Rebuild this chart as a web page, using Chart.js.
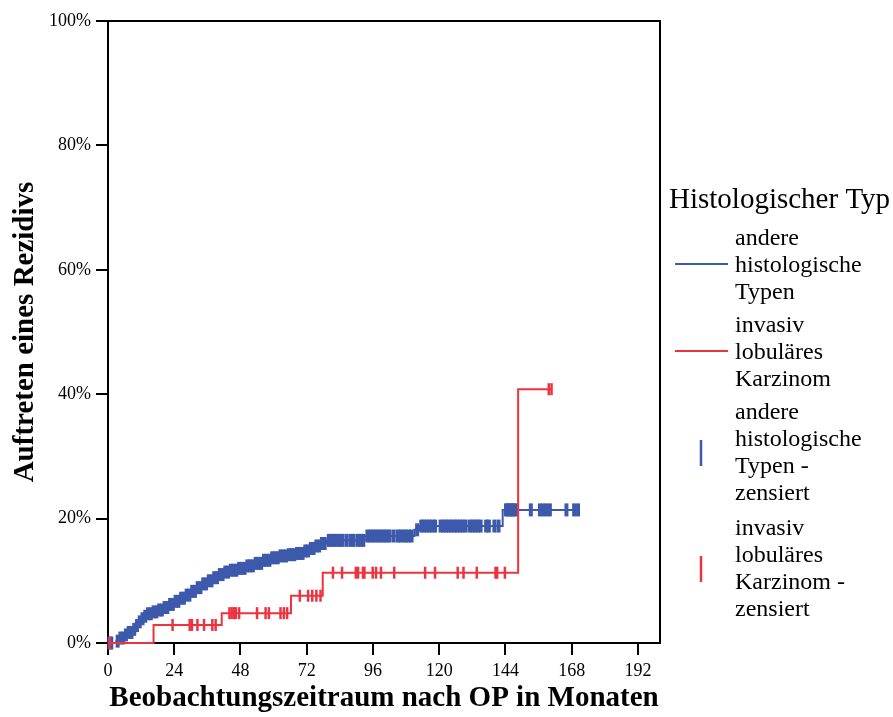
<!DOCTYPE html>
<html>
<head>
<meta charset="utf-8">
<script src="https://cdn.jsdelivr.net/npm/chart.js@4/dist/chart.umd.min.js"></script>
<style>
  html, body { margin: 0; padding: 0; background: #ffffff; }
  #wrap { width: 893px; height: 717px; position: relative; }
</style>
</head>
<body>
<div id="wrap"><canvas id="c" width="893" height="717"></canvas></div>
<script>
// Axis ticks
const xTicks = [0, 24, 48, 72, 96, 120, 144, 168, 192];
const yTicks = [0, 20, 40, 60, 80, 100];

// Legend texts
const legendTitle = 'Histologischer Typ';
const legendEntries = [
  ['andere', 'histologische', 'Typen'],
  ['invasiv', 'lobuläres', 'Karzinom'],
  ['andere', 'histologische', 'Typen -', 'zensiert'],
  ['invasiv', 'lobuläres', 'Karzinom -', 'zensiert']
];

// Cumulative recurrence (%) – other histological types
const otherMonths = [0, 3, 4.5, 6, 7.5, 9, 10, 11, 12, 13, 14.5, 16, 18, 20, 22, 24, 26, 28, 30, 32, 34, 36, 38, 40, 42, 44, 47, 50, 53, 56, 59, 62, 65, 68, 71, 73, 75, 77, 79, 93, 111, 113, 143, 170.3];
const otherRisk   = [0, 0.3, 0.8, 1.3, 1.7, 2.2, 2.8, 3.4, 3.9, 4.3, 4.7, 5.0, 5.3, 5.7, 6.2, 6.7, 7.2, 7.7, 8.3, 8.9, 9.5, 10.0, 10.5, 11.0, 11.4, 11.7, 12.0, 12.4, 12.8, 13.3, 13.7, 14.0, 14.2, 14.4, 14.8, 15.2, 15.6, 16.0, 16.5, 17.2, 18.2, 18.8, 21.4, 21.4];
const otherCensored = [0.5, 1.2, 3.5, 4.5, 5.5, 6.5, 7.5, 8.5, 9.5, 10.5, 11.5, 12.5, 13.5, 14.5, 15.5, 16.5, 17.5, 18.5, 19.5, 20.5, 21.5, 22.5, 23.5, 24.5, 25.5, 26.5, 27.5, 28.5, 29.5, 30.5, 31.5, 32.5, 33.5, 34.5, 35.5, 36.5, 37.5, 38.5, 39.5, 40.5, 41.5, 42.5, 43.5, 44.5, 45.5, 46.5, 47.5, 48.5, 49.5, 50.5, 51.5, 52.5, 53.5, 54.5, 55.5, 56.5, 57.5, 58.5, 59.5, 60.5, 61.5, 62.5, 63.5, 64.5, 65.5, 66.5, 67.5, 68.5, 69.5, 70.5, 71.5, 72.5, 73.5, 74.5, 75.5, 76.5, 77.5, 78.5, 80, 81, 82, 83, 84, 85, 86.5, 88, 89, 90.5, 91.5, 92.5, 94, 95, 96, 97, 98, 99, 100, 101, 102, 103.5, 105, 106, 107, 108, 109, 110, 112, 113.5, 114.5, 115.5, 116.5, 117.5, 118.5, 120.5, 121.5, 122.5, 123.5, 124.5, 125.5, 126.5, 127.5, 128.5, 129.5, 131, 132, 133, 134, 135, 137, 138, 140, 141.5, 144.2, 144.8, 145.4, 146, 146.6, 147.2, 147.8, 153.2, 156.5, 157.7, 158.9, 160.1, 166.1, 168.9, 170.3];

// Cumulative recurrence (%) – invasive lobular carcinoma
const ilcMonths = [0, 16.5, 41.2, 66.3, 77.8, 148.6, 160.5];
const ilcRisk   = [0, 2.9, 4.8, 7.6, 11.3, 40.8, 40.8];
const ilcCensored = [0.6, 23.4, 29.6, 30.4, 32.4, 34.8, 37.8, 39.0, 44.0, 44.8, 45.6, 46.3, 47.5, 54.0, 57.1, 58.3, 62.5, 63.7, 64.9, 69.5, 72.5, 74.0, 75.5, 77.0, 81.5, 84.8, 89.8, 90.6, 92.4, 92.9, 95.9, 97.1, 98.9, 103.7, 114.9, 118.5, 126.7, 128.8, 133.6, 140.4, 141.0, 143.8, 159.7, 160.7];

const BLUE = '#3d59ab';
const RED = '#ee3340';
const SERIF = '"Liberation Serif", "Times New Roman", serif';

function riskAt(months, risk, t) {
  let v = risk[0];
  for (let i = 0; i < months.length; i++) {
    if (months[i] <= t) v = risk[i]; else break;
  }
  return v;
}
const toPoints = (m, r) => m.map((x, i) => ({ x: x, y: r[i] }));
const censorPoints = (c, m, r) => c.map(t => ({ x: t, y: riskAt(m, r, t) }));

// Box on top/right plus the legend at the right
const framePlugin = {
  id: 'frameAndLegend',
  afterDraw(chart) {
    const { ctx, chartArea: a } = chart;
    ctx.save();
    ctx.strokeStyle = '#000';
    ctx.lineWidth = 2;
    ctx.beginPath();
    ctx.moveTo(a.left - 1, a.top);
    ctx.lineTo(a.right, a.top);
    ctx.lineTo(a.right, a.bottom + 1);
    ctx.stroke();

    ctx.fillStyle = '#000';
    ctx.textBaseline = 'middle';
    ctx.textAlign = 'left';
    ctx.font = '29px ' + SERIF;
    ctx.fillText(legendTitle, 669, 200);

    ctx.font = '24px ' + SERIF;
    const starts = [239, 326, 413, 529];
    const lh = 27;
    legendEntries.forEach((lines, k) => {
      lines.forEach((s, j) => ctx.fillText(s, 735, starts[k] + j * lh));
    });

    ctx.lineWidth = 2;
    ctx.strokeStyle = BLUE;
    ctx.beginPath(); ctx.moveTo(675, 264); ctx.lineTo(728, 264); ctx.stroke();
    ctx.strokeStyle = RED;
    ctx.beginPath(); ctx.moveTo(675, 351); ctx.lineTo(728, 351); ctx.stroke();
    ctx.lineWidth = 2.5;
    ctx.strokeStyle = BLUE;
    ctx.beginPath(); ctx.moveTo(701, 440); ctx.lineTo(701, 466); ctx.stroke();
    ctx.strokeStyle = RED;
    ctx.beginPath(); ctx.moveTo(701, 556); ctx.lineTo(701, 582); ctx.stroke();
    ctx.restore();
  }
};

new Chart(document.getElementById('c'), {
  type: 'line',
  data: {
    datasets: [
      {
        label: 'invasiv lobuläres Karzinom - zensiert',
        data: censorPoints(ilcCensored, ilcMonths, ilcRisk),
        showLine: false,
        pointStyle: 'line',
        rotation: 90,
        pointRadius: 6,
        pointBorderWidth: 2.5,
        borderColor: RED,
        backgroundColor: RED,
        clip: false
      },
      {
        label: 'invasiv lobuläres Karzinom',
        data: toPoints(ilcMonths, ilcRisk),
        stepped: true,
        borderColor: RED,
        borderWidth: 2,
        pointRadius: 0,
        fill: false,
        clip: false
      },
      {
        label: 'andere histologische Typen - zensiert',
        data: censorPoints(otherCensored, otherMonths, otherRisk),
        showLine: false,
        pointStyle: 'line',
        rotation: 90,
        pointRadius: 6.5,
        pointBorderWidth: 4,
        borderColor: BLUE,
        backgroundColor: BLUE,
        clip: false
      },
      {
        label: 'andere histologische Typen',
        data: toPoints(otherMonths, otherRisk),
        stepped: true,
        borderColor: BLUE,
        borderWidth: 2,
        pointRadius: 0,
        fill: false,
        clip: false
      }
    ]
  },
  options: {
    responsive: false,
    animation: false,
    devicePixelRatio: 1,
    layout: { padding: { left: 0, top: 21, right: 233, bottom: 0 } },
    plugins: {
      legend: { display: false },
      tooltip: { enabled: false }
    },
    scales: {
      x: {
        type: 'linear',
        min: 0,
        max: 200,
        afterBuildTicks: s => { s.ticks = xTicks.map(v => ({ value: v })); },
        afterFit: s => { s.height = 74; },
        border: { display: true, color: '#000', width: 2 },
        grid: { drawOnChartArea: false, drawTicks: true, tickLength: 12, color: '#000', lineWidth: 2 },
        ticks: { color: '#000', padding: 5, font: { family: SERIF, size: 18 }, maxRotation: 0 },
        title: {
          display: true,
          text: 'Beobachtungszeitraum nach OP in Monaten',
          color: '#000',
          font: { family: SERIF, size: 29, weight: 'bold', lineHeight: 1 },
          padding: { top: 0, bottom: 4 }
        }
      },
      y: {
        type: 'linear',
        min: 0,
        max: 100,
        afterBuildTicks: s => { s.ticks = yTicks.map(v => ({ value: v })); },
        afterFit: s => { s.width = 108; },
        border: { display: true, color: '#000', width: 2 },
        grid: { drawOnChartArea: false, drawTicks: true, tickLength: 12, color: '#000', lineWidth: 2 },
        ticks: { color: '#000', padding: 5, font: { family: SERIF, size: 18 }, callback: v => v + '%' },
        title: {
          display: true,
          text: 'Auftreten eines Rezidivs',
          color: '#000',
          font: { family: SERIF, size: 29, weight: 'bold', lineHeight: 1 },
          padding: { top: 11, bottom: 0 }
        }
      }
    }
  },
  plugins: [framePlugin]
});
</script>
</body>
</html>
